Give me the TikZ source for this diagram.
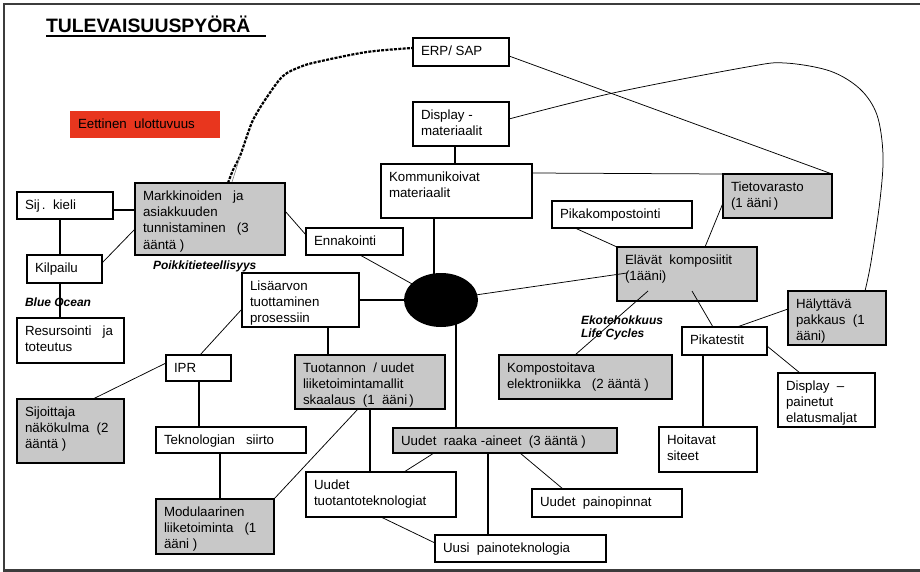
\documentclass[tikz,border=0pt]{standalone}
\usepackage{fontspec}
\setmainfont{Liberation Sans}
\usetikzlibrary{calc,shapes.geometric}

\definecolor{boxgrey}{RGB}{200,200,200}
\definecolor{eetred}{RGB}{232,54,30}
\definecolor{framegrey}{RGB}{60,60,60}

\tikzset{
  every node/.style={inner sep=0pt, outer sep=0pt},
  plainbox/.style={rectangle, draw=black, line width=1.1pt, fill=white},
  greybox/.style={plainbox, fill=boxgrey},
  redbox/.style={rectangle, fill=eetred, draw=none},
  boxtext/.style={anchor=north west, align=left, font=\fontsize{13.3}{16.3}\selectfont},
  note/.style={anchor=north west, align=left, font=\fontsize{12}{13.5}\selectfont\bfseries\itshape},
  link/.style={draw=black, line width=0.75pt},
  stem/.style={draw=black, line width=1.5pt},
  hubstyle/.style={ellipse, fill=black, draw=none, minimum width=74, minimum height=54},
}

% box: name, style, left, top, width, height, text
\newcommand\tagbox[7]{%
  \node[#2, minimum width=#5, minimum height=#6, anchor=north west] (#1) at (#3,#4) {};
  \node[boxtext] (#1-t) at ($(#1.north west)+(8,5.9)$) {\strut #7};
}

\begin{document}
\begin{tikzpicture}[x=1pt,y=-1pt]
\useasboundingbox (0,0) rectangle (920,572);

% outer frame
\draw[framegrey, line width=2.2pt] (924,4) -- (4,4) -- (4,570.5) -- (924,570.5);

% title
\node[anchor=base west, font=\fontsize{19.4}{22}\selectfont\bfseries] (title) at (46,33) {TULEVAISUUSPYÖRÄ};
\draw[line width=1.9pt] ([yshift=-2.6pt]title.base west) -- ++(220,0);

% boxes
\tagbox{eett}{redbox}{70}{111}{150}{27}{Eettinen\ \ ulottuvuus}
\tagbox{erp}{plainbox}{413}{38}{96}{28}{ERP/ SAP}
\tagbox{dispm}{plainbox}{413}{102}{96}{44}{Display -\\materiaalit}
\tagbox{komm}{plainbox}{381}{164}{151}{54}{Kommunikoivat\\materiaalit}
\tagbox{tieto}{greybox}{723}{174}{109}{44}{Tietovarasto\\(1 ääni\,)}
\tagbox{pika}{plainbox}{552}{201}{140}{27}{Pikakompostointi}
\tagbox{elav}{greybox}{617}{247}{140}{54}{Elävät\ \ komposiitit\\(1ääni)}
\tagbox{halyt}{greybox}{788}{291}{98}{54}{Hälyttävä\\pakkaus\ \ (1\\ääni)}
\tagbox{pikat}{plainbox}{682}{327}{85}{28}{Pikatestit}
\tagbox{disp2}{plainbox}{778}{373}{97}{54}{Display\ \ –\\painetut\\elatusmaljat}
\tagbox{hoit}{plainbox}{659}{427}{98}{45}{Hoitavat\\siteet}
\tagbox{komp}{greybox}{499}{355}{173}{44}{Kompostoitava\\elektroniikka\ \ \ (2 ääntä )}
\tagbox{raaka}{greybox}{393}{428}{224}{25}{Uudet\ \ raaka -aineet\ \ (3 ääntä )}
\tagbox{painop}{plainbox}{532}{489}{150}{28}{Uudet\ \ painopinnat}
\tagbox{uusi}{plainbox}{435}{535}{171}{27}{Uusi\ \ painoteknologia}
\tagbox{tuotek}{plainbox}{306}{472}{150}{45}{Uudet\\tuotantoteknologiat}
\tagbox{tuotan}{greybox}{295}{355}{150}{54}{Tuotannon\ \ / uudet\\liiketoimintamallit\\skaalaus\ \ (1\ \ ääni\,)}
\tagbox{lisa}{plainbox}{242}{273}{117}{54}{Lisäarvon\\tuottaminen\\prosessiin}
\tagbox{enna}{plainbox}{306}{228}{97}{27}{Ennakointi}
\tagbox{mark}{greybox}{135}{183}{150}{72}{Markkinoiden\ \ \ ja\\asiakkuuden\\tunnistaminen\ \ \ (3\\ääntä )}
\tagbox{sij}{plainbox}{17}{192}{96}{27}{Sij\,.\ \ kieli}
\tagbox{kilp}{plainbox}{27}{255}{75}{28}{Kilpailu}
\tagbox{resu}{plainbox}{17}{318}{107}{45}{Resursointi\ \ \ ja\\toteutus}
\tagbox{ipr}{plainbox}{166}{355}{65}{26}{IPR}
\tagbox{sijo}{greybox}{17}{399}{107}{64}{Sijoittaja\\näkökulma\ \ (2\\ääntä )}
\tagbox{tekn}{plainbox}{156}{427}{150}{26}{Teknologian\ \ \ siirto}
\tagbox{modu}{greybox}{156}{499}{118}{55}{Modulaarinen\\liiketoiminta\ \ \ (1\\ääni )}

% lines into the central hub (the hub is drawn over their ends)
\coordinate (hubc) at (441,300);
\draw[stem] ($(komm.south west)+(53,0)$) coordinate (k1) -- (k1 |- hubc);
\draw[link] ($(enna.south west)+(54,0)$) -- (hubc);
\draw[stem] (lisa.east) -- (lisa.east -| hubc);
\draw[stem] ($(raaka.north west)+(63,0)$) coordinate (k2) -- (k2 |- hubc);
\draw[link] (hubc) -- ($(elav.north west)+(10,26)$);
\node[hubstyle] (hub) at (hubc) {};

% upper connectors
\draw[stem] ($(dispm.south west)+(42,0)$) -- ($(komm.north west)+(74,0)$);
\draw[link] ($(komm.north east)+(0,9)$) -- (tieto.north west);
\draw[link] ($(erp.north east)+(0,18)$) -- (tieto.north east);
\coordinate (c5s) at ($(dispm.north east)+(0,17)$);
\coordinate (c5e) at ($(halyt.north west)+(77,0)$);
\draw[link] plot[smooth, tension=0.55] coordinates {(c5s) (613,93) (747,67) (785,63) (830,71) (860,89) (877,115) (883,155) (880,200) (871,262) (c5e)};
\coordinate (c6s) at ($(mark.north west)+(93,0)$);
\coordinate (c6e) at ($(erp.north west)+(0,10)$);
\draw[line width=2.2pt, dash pattern=on 3pt off 1.3pt] plot[smooth, tension=0.55] coordinates {(c6s) (233,170) (240,156) (248,133) (254,118) (267,97) (283,76) (300,67) (317,62) (367,52) (c6e)};
\draw[gray, line width=0.6pt] ($(mark.north west)+(97,-1)$) -- ($(mark.north west)+(105,-26)$);

% right-hand connectors
\draw[link] ($(pika.south west)+(23,0)$) -- (elav.north west);
\draw[link] ($(tieto.north west)+(0,29)$) -- ($(elav.north west)+(88,0)$);
\draw[link] ($(komp.north west)+(76,0)$) -- ($(elav.south west)+(31,-10)$);
\draw[link] ($(elav.south west)+(75,-10)$) -- ($(pikat.north west)+(31,0)$);
\draw[link] ($(halyt.north west)+(0,18)$) -- ($(pikat.north west)+(55,0)$);
\draw[link] ($(pikat.north east)+(0,19)$) -- ($(disp2.north west)+(22,0)$);
\draw[stem] ($(pikat.south west)+(21,0)$) coordinate (k3) -- (k3 |- hoit.north);

% lower connectors
\draw[stem] ($(lisa.south west)+(86,0)$) coordinate (k4) -- (k4 |- tuotan.north);
\draw[link] ($(tuotan.south west)+(63,0)$) -- (modu.north east);
\draw[stem] ($(tuotan.south west)+(75,0)$) coordinate (k5) -- (k5 |- tuotek.north);
\draw[link] ($(raaka.south west)+(41,0)$) -- ($(tuotek.north west)+(98,0)$);
\draw[stem] ($(raaka.south west)+(95,0)$) coordinate (k6) -- (k6 |- uusi.north);
\draw[link] ($(raaka.south west)+(127,0)$) -- ($(painop.north west)+(31,0)$);
\draw[link] ($(tuotek.south west)+(75,0)$) -- ($(uusi.north west)+(0,8)$);

% left-hand connectors
\draw[link] ($(mark.north east)+(0,28)$) -- ($(enna.north west)+(0,7)$);
\draw[stem] ($(sij.north east)+(0,18)$) -- ($(mark.north west)+(0,27)$);
\draw[stem] ($(sij.south west)+(43,0)$) coordinate (k7) -- (k7 |- kilp.north);
\draw[link] ($(kilp.north east)+(0,8)$) -- ($(mark.north west)+(0,46)$);
\draw[stem] ($(kilp.south west)+(33,0)$) coordinate (k8) -- (k8 |- resu.north);
\draw[link] ($(ipr.north west)+(34,0)$) -- ($(lisa.north west)+(0,36)$);
\draw[link] ($(ipr.north west)+(0,8)$) -- ($(sijo.north west)+(76,0)$);
\draw[stem] ($(ipr.south west)+(33,0)$) coordinate (k9) -- (k9 |- tekn.north);
\draw[stem] ($(tekn.south west)+(64,0)$) coordinate (k10) -- (k10 |- modu.north);

% free labels
\node[note] (poikki) at (153,260.5) {\strut Poikkitieteellisyys};
\node[note] (blue) at (25,297) {\strut Blue Ocean};
\node[note] (eko) at (581,315) {\strut Ekotehokkuus\\Life Cycles};
\end{tikzpicture}
\end{document}
